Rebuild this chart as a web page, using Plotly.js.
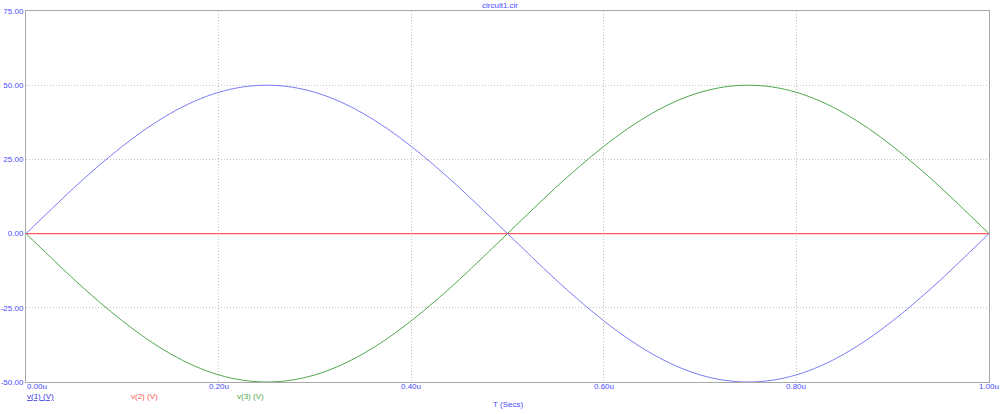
<!DOCTYPE html>
<html><head><meta charset="utf-8">
<script src="https://cdn.plot.ly/plotly-3.0.1.min.js"></script>
<style>html,body{margin:0;padding:0;background:#fff}#chart{width:1000px;height:414px}</style>
</head><body><div id="chart"></div>
<script>
// time in microseconds
const timeUs = [0,0.025,0.05,0.075,0.1,0.125,0.15,0.175,0.2,0.225,0.25,0.275,0.3,0.325,0.35,0.375,0.4,0.425,0.45,0.475,0.5,0.525,0.55,0.575,0.6,0.625,0.65,0.675,0.7,0.725,0.75,0.775,0.8,0.825,0.85,0.875,0.9,0.925,0.95,0.975,1.0];
const v1 = [0,7.8,15.5,22.7,29.4,35.4,40.5,44.6,47.6,49.4,50,49.4,47.6,44.6,40.5,35.4,29.4,22.7,15.5,7.8,0,-7.8,-15.5,-22.7,-29.4,-35.4,-40.5,-44.6,-47.6,-49.4,-50,-49.4,-47.6,-44.6,-40.5,-35.4,-29.4,-22.7,-15.5,-7.8,0];
const v2 = [0,0,0,0,0,0,0,0,0,0,0,0,0,0,0,0,0,0,0,0,0,0,0,0,0,0,0,0,0,0,0,0,0,0,0,0,0,0,0,0,0];
const v3 = [0,-7.8,-15.5,-22.7,-29.4,-35.4,-40.5,-44.6,-47.6,-49.4,-50,-49.4,-47.6,-44.6,-40.5,-35.4,-29.4,-22.7,-15.5,-7.8,0,7.8,15.5,22.7,29.4,35.4,40.5,44.6,47.6,49.4,50,49.4,47.6,44.6,40.5,35.4,29.4,22.7,15.5,7.8,0];
const seriesNames = ['v(1) (V)','v(2) (V)','v(3) (V)'];
const xTickVals = [0,0.2,0.4,0.6,0.8,1.0];
const xTickText = ['0.00u','0.20u','0.40u','0.60u','0.80u','1.00u'];
const yTickVals = [-50,-25,0,25,50,75];
const yTickText = ['-50.00','-25.00','0.00','25.00','50.00','75.00'];
const titleText = 'circuit1.cir';
const xTitle = 'T (Secs)';

const colors = ['#7b7bf5','#ff5a5a','#4ea84e'];
const legendColors = ['#3535e0','#ff5a5a','#4ea84e'];
const labelColor = '#4b4bff';
const FONT = 'Liberation Sans, Arial, sans-serif';

const traces = [
  {x: timeUs, y: v2, mode:'lines', line:{color:colors[1], width:1.3}, name:seriesNames[1], hoverinfo:'skip'},
  {x: timeUs, y: v3, mode:'lines', line:{color:colors[2], width:1, shape:'spline'}, name:seriesNames[2], hoverinfo:'skip'},
  {x: timeUs, y: v1, mode:'lines', line:{color:colors[0], width:1, shape:'spline'}, name:seriesNames[0], hoverinfo:'skip'}
];

const plotTop = 11, plotBottom = 382;
const pxToPaper = py => (plotBottom - py)/(plotBottom - plotTop);

const annotations = [];
xTickVals.forEach((v,i)=>{
  annotations.push({x:v, xref:'x', y:pxToPaper(387), yref:'paper', text:xTickText[i], showarrow:false,
    xanchor: i===0 ? 'left' : 'center', yanchor:'middle', borderpad:0,
    font:{family:FONT,size:8,color:labelColor}});
});
const legendX = [0, 0.108, 0.218];
seriesNames.forEach((n,i)=>{
  annotations.push({x:legendX[i], xref:'paper', y:pxToPaper(396), yref:'paper', text: i===0 ? '<u>'+n+'</u>' : n,
    showarrow:false, xanchor:'left', yanchor:'middle', borderpad:0,
    font:{family:FONT,size:8,color:legendColors[i]}});
});
annotations.push({x:0.5, xref:'paper', y:pxToPaper(404), yref:'paper', text:xTitle, showarrow:false,
  xanchor:'center', yanchor:'middle', borderpad:0, font:{family:FONT,size:8,color:labelColor}});

const layout = {
  width:1000, height:414,
  margin:{l:26, r:11, t:11, b:32},
  paper_bgcolor:'#fff', plot_bgcolor:'#fff',
  showlegend:false,
  title:{text:titleText, x:0.5, xanchor:'center', y:1-5/414, yanchor:'middle', yref:'container',
    font:{family:FONT,size:8,color:labelColor}},
  xaxis:{range:[0,1], tickvals:xTickVals, showticklabels:false, showgrid:true, gridcolor:'#c4c4c4', griddash:'1px,2px',
    gridwidth:1, zeroline:false, showline:true, mirror:true, linecolor:'#a8a8a8', linewidth:1, ticks:'', fixedrange:true},
  yaxis:{range:[-50,75], tickvals:yTickVals, ticktext:yTickText, showgrid:true, gridcolor:'#c4c4c4', griddash:'1px,2px',
    gridwidth:1, zeroline:false, showline:true, mirror:true, linecolor:'#a8a8a8', linewidth:1, ticks:'', ticklen:0,
    tickfont:{family:FONT,size:8,color:labelColor}, fixedrange:true},
  annotations: annotations
};
Plotly.newPlot('chart', traces, layout, {displayModeBar:false, staticPlot:true});
</script></body></html>
